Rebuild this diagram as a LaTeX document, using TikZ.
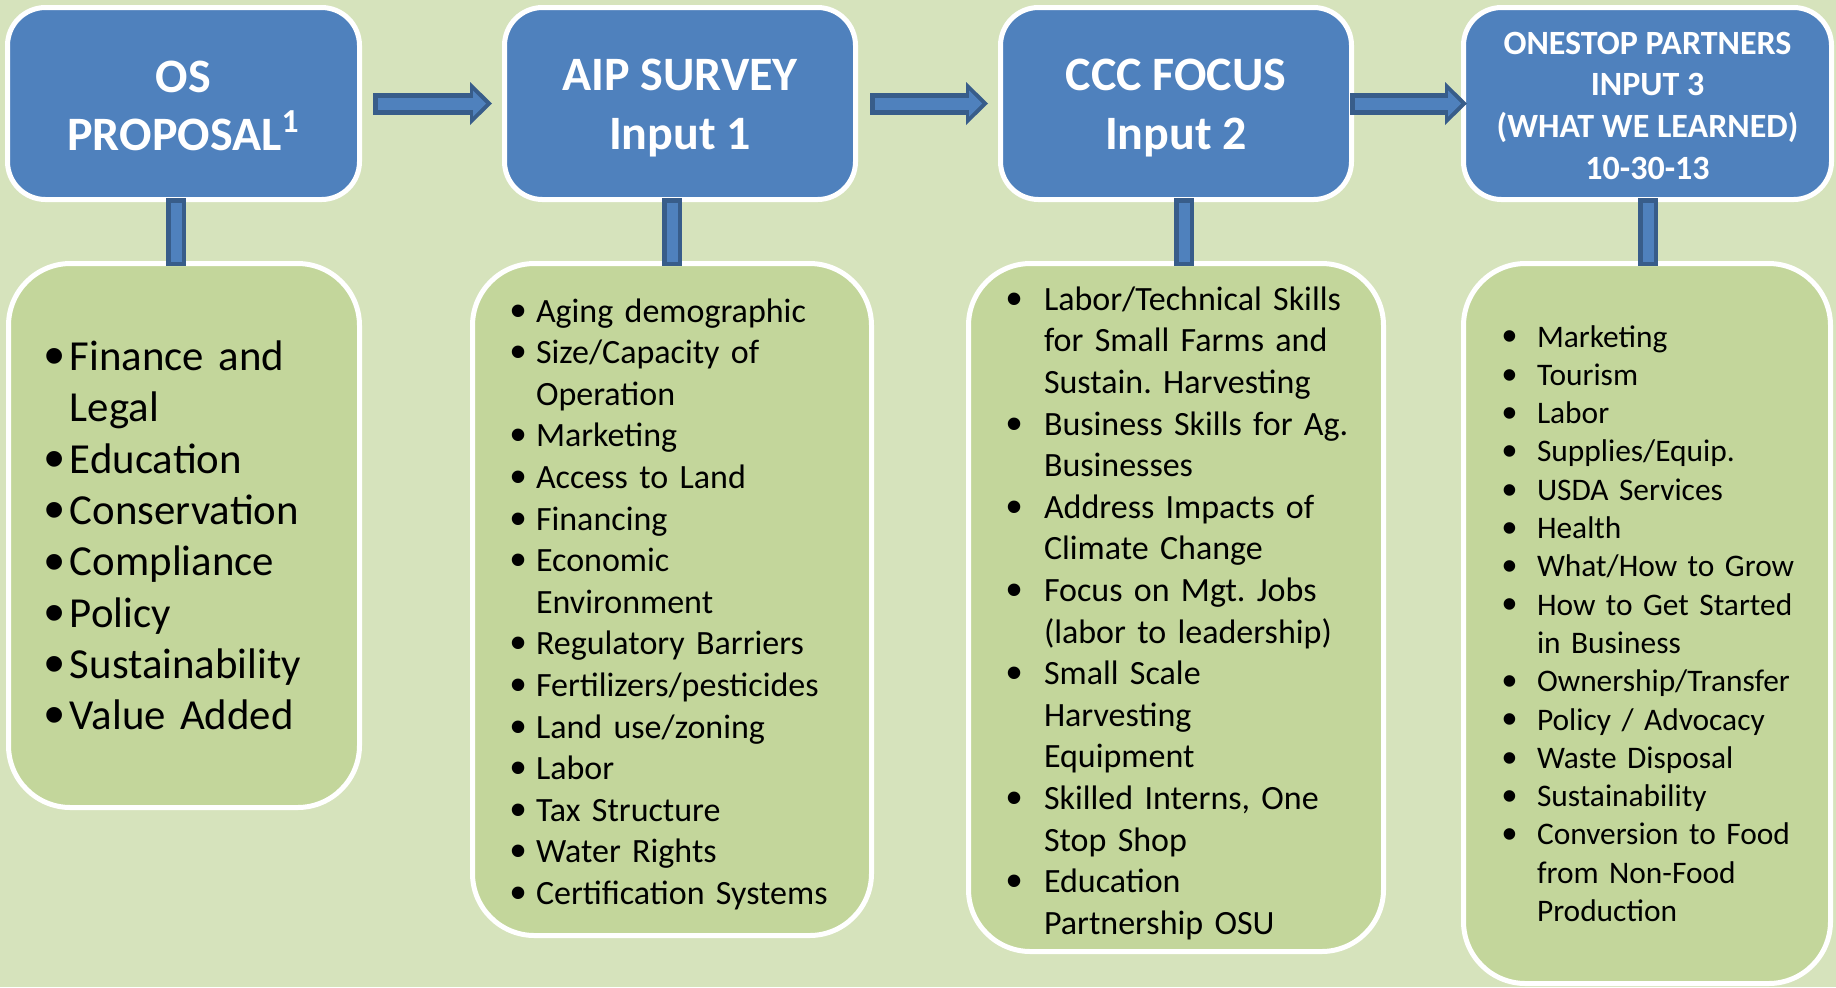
\documentclass[tikz,border=0pt]{standalone}
\usepackage{fontspec}
\setmainfont{Carlito}
\newfontfamily\bulfont{Liberation Sans}
\usetikzlibrary{arrows.meta}
\definecolor{bgGreen}{HTML}{D6E3BC}
\definecolor{listGreen}{HTML}{C3D69B}
\definecolor{boxBlue}{HTML}{4F81BD}
\definecolor{edgeBlue}{HTML}{385D8A}
\frenchspacing
\newlength{\bulind}
\newcommand{\itm}[1]{\mbox{\makebox[\bulind][l]{\smash{\raisebox{-0.12em}{\scalebox{1.35}{\bulfont •}}}}#1}}
\newcommand{\cnt}[1]{\mbox{\hspace*{\bulind}#1}}
\newcommand{\tpad}[1]{\rule{0pt}{#1}}
\tikzset{
  topNode/.style={%
    rectangle, rounded corners=19pt, draw=white, line width=2.5pt,
    fill=boxBlue, text=white, align=center, minimum height=96pt,
  },
  listNode/.style={%
    rectangle, rounded corners=31pt, draw=white, line width=2.5pt,
    fill=listGreen, text=black, align=left, inner ysep=0pt,
  },
  bulletGap/.code={\setlength{\bulind}{#1}},
  arrowOuter/.style={%
    draw=edgeBlue, line width=11pt,
    -{Triangle[length=11pt,width=21.5pt,line width=0pt]},
  },
  arrowInner/.style={%
    draw=boxBlue, line width=6pt, shorten <=2.5pt, shorten >=3pt,
    -{Triangle[length=6.5pt,width=13pt,line width=0pt]},
  },
  connOuter/.style={draw=edgeBlue, line width=10pt},
  connInner/.style={draw=boxBlue, line width=5.5pt, shorten <=2.25pt, shorten >=2.25pt},
}

\begin{document}
\begin{tikzpicture}[x=0.5pt,y=-0.5pt]
          \fill[bgGreen] (0,0) rectangle (1836,987);

          \node[topNode,minimum width=176pt,font=\bfseries\fontsize{24}{29.25}\selectfont] (A) at (183.5,103.5) {\tpad{18pt}OS\\PROPOSAL\textsuperscript{1}};
          \node[topNode,minimum width=175.5pt,font=\bfseries\fontsize{24}{29.25}\selectfont] (B) at (680,103.5) {\tpad{20.5pt}AIP SURVEY\\Input 1};
          \node[topNode,minimum width=175.5pt,font=\bfseries\fontsize{24}{29.25}\selectfont] (C) at (1176,103.5) {\tpad{20.5pt}CCC FOCUS\\Input 2};
          \node[topNode,minimum width=184pt,font=\bfseries\fontsize{17}{20.9}\selectfont] (D) at (1647.5,103.5) {\tpad{13.5pt}ONESTOP PARTNERS\\INPUT 3\\(WHAT WE LEARNED)\\10-30-13};

          \node[listNode,minimum width=175.5pt,minimum height=272pt,text width=140pt,inner xsep=17.75pt,
            bulletGap=13pt,font=\fontsize{21.4}{25.65}\selectfont] (a) at (184,535.5) {%
            \itm{Finance and}\\ \cnt{Legal}\\ \itm{Education}\\ \itm{Conservation}\\ \itm{Compliance}\\
            \itm{Policy}\\ \itm{Sustainability}\\ \itm{Value Added}};
          \node[listNode,minimum width=199.5pt,minimum height=336pt,text width=162pt,inner xsep=18.75pt,
            bulletGap=13pt,font=\fontsize{17}{20.8}\selectfont] (b) at (672,599.5) {%
            \tpad{16.5pt}\itm{Aging demographic}\\ \itm{Size/Capacity of}\\ \cnt{Operation}\\ \itm{Marketing}\\
            \itm{Access to Land}\\ \itm{Financing}\\ \itm{Economic}\\ \cnt{Environment}\\
            \itm{Regulatory Barriers}\\ \itm{Fertilizers/pesticides}\\ \itm{Land use/zoning}\\
            \itm{Labor}\\ \itm{Tax Structure}\\ \itm{Water Rights}\\ \itm{Certification Systems}};
          \node[listNode,minimum width=207.5pt,minimum height=344pt,text width=170pt,inner xsep=18.75pt,
            bulletGap=19pt,font=\fontsize{17}{20.8}\selectfont] (c) at (1176,607.5) {%
            \tpad{17.5pt}\itm{Labor/Technical Skills}\\ \cnt{for Small Farms and}\\ \cnt{Sustain. Harvesting}\\
            \itm{Business Skills for Ag.}\\ \cnt{Businesses}\\ \itm{Address Impacts of}\\
            \cnt{Climate Change}\\ \itm{Focus on Mgt. Jobs}\\ \cnt{(labor to leadership)}\\
            \itm{Small Scale}\\ \cnt{Harvesting}\\ \cnt{Equipment}\\ \itm{Skilled Interns, One}\\
            \cnt{Stop Shop}\\ \itm{Education}\\ \cnt{Partnership OSU}};
          \node[listNode,minimum width=183.5pt,minimum height=360pt,text width=145pt,inner xsep=19.25pt,
            bulletGap=17.5pt,font=\fontsize{15.7}{19.15}\selectfont] (d) at (1647,623.5) {%
            \itm{Marketing}\\ \itm{Tourism}\\ \itm{Labor}\\ \itm{Supplies/Equip.}\\ \itm{USDA Services}\\
            \itm{Health}\\ \itm{What/How to Grow}\\ \itm{How to Get Started}\\ \cnt{in Business}\\
            \itm{Ownership/Transfer}\\ \itm{Policy / Advocacy}\\ \itm{Waste Disposal}\\
            \itm{Sustainability}\\ \itm{Conversion to Food}\\ \cnt{from Non-Food}\\ \cnt{Production}};

          \foreach \s/\t/\u/\v in {A/B/5.5pt/-5pt, B/C/6pt/-5pt, C/D/-2pt/3pt} {
            \draw[arrowOuter] ([xshift=\u]\s.east) -- ([xshift=\v]\t.west);
            \draw[arrowInner] ([xshift=\u]\s.east) -- ([xshift=\v]\t.west);
          }

          \foreach \s/\t/\u/\v in {A/a/-3.75pt/-4pt, B/b/-4pt/0pt, C/c/4pt/4pt, D/d/0.25pt/0.5pt} {
            \draw[connOuter] ([xshift=\u,yshift=2pt]\s.south) -- ([xshift=\v,yshift=-2.5pt]\t.north);
            \draw[connInner] ([xshift=\u,yshift=2pt]\s.south) -- ([xshift=\v,yshift=-2.5pt]\t.north);
          }
        \end{tikzpicture}
\end{document}
